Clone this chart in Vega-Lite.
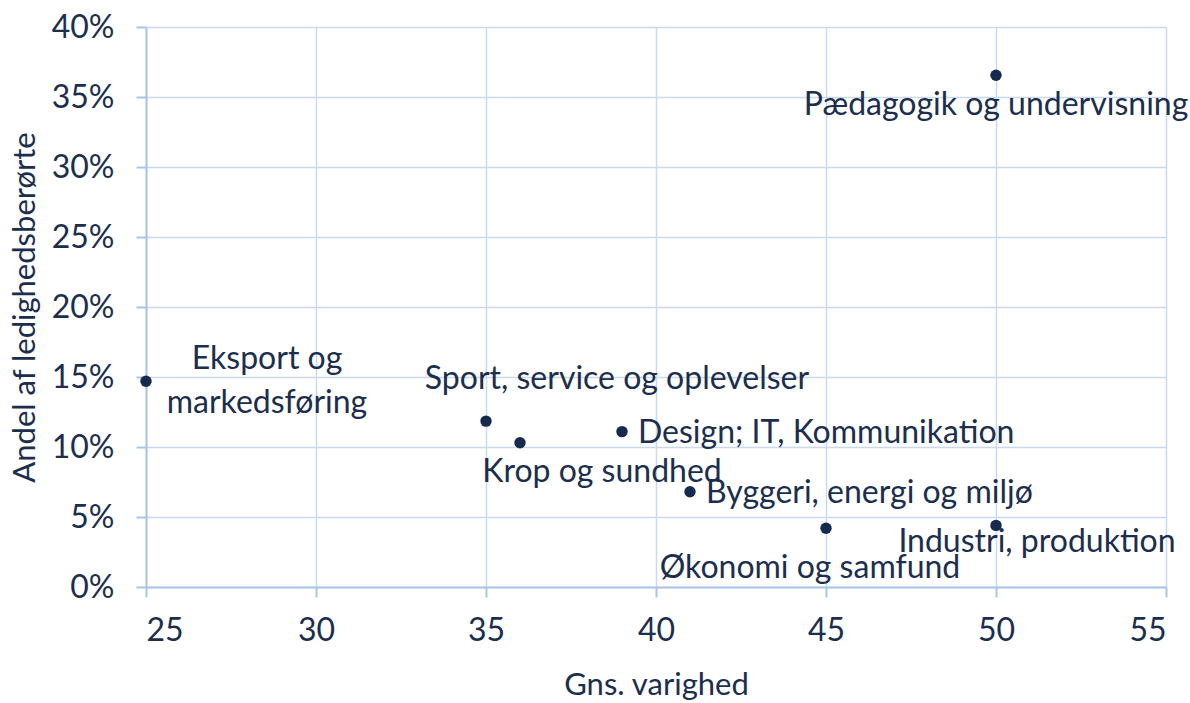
{
  "$schema": "https://vega.github.io/schema/vega-lite/v6.json",
  "width": 1020,
  "height": 560,
  "autosize": "none",
  "padding": {"left": 146, "top": 27, "right": 24, "bottom": 116},
  "background": "white",
  "config": {
    "font": "Lato",
    "view": {"stroke": null},
    "axis": {
      "labelFont": "Lato", "titleFont": "Lato",
      "labelFontSize": 32, "titleFontSize": 31,
      "labelColor": "#1B2E4E", "titleColor": "#1B2E4E",
      "labelFontWeight": "normal", "titleFontWeight": "normal",
      "gridColor": "#C9D9F0", "gridWidth": 1.5, "gridOpacity": 1,
      "domainColor": "#A9C4EB", "domainWidth": 2,
      "tickColor": "#A9C4EB", "tickWidth": 2, "tickSize": 10
    }
  },
  "data": {"values": [
    {"name": "Pædagogik og undervisning", "varighed": 50, "andel": 0.3655},
    {"name": "Eksport og markedsføring", "varighed": 25, "andel": 0.147},
    {"name": "Sport, service og oplevelser", "varighed": 35, "andel": 0.1185},
    {"name": "Krop og sundhed", "varighed": 36, "andel": 0.103},
    {"name": "Design; IT, Kommunikation", "varighed": 39, "andel": 0.111},
    {"name": "Byggeri, energi og miljø", "varighed": 41, "andel": 0.068},
    {"name": "Økonomi og samfund", "varighed": 45, "andel": 0.042},
    {"name": "Industri, produktion", "varighed": 50, "andel": 0.044}
  ]},
  "encoding": {
    "x": {"field": "varighed", "type": "quantitative",
      "scale": {"domain": [25, 55], "zero": false, "nice": false},
      "axis": {"values": [25, 30, 35, 40, 45, 50, 55], "title": "Gns. varighed", "labelPadding": 18, "titlePadding": 24}},
    "y": {"field": "andel", "type": "quantitative",
      "scale": {"domain": [0, 0.4], "nice": false},
      "axis": {"values": [0, 0.05, 0.1, 0.15, 0.2, 0.25, 0.3, 0.35, 0.4], "format": ".0%", "title": "Andel af ledighedsberørte", "labelPadding": 22, "titlePadding": 10}}
  },
  "layer": [
    {"mark": {"type": "point", "filled": true, "size": 130, "color": "#152A4C", "opacity": 1}},
    {"transform": [{"filter": "datum.name === 'Pædagogik og undervisning'"}],
     "mark": {"type": "text", "fontSize": 32, "color": "#1B2E4E", "align": "center", "baseline": "middle", "dy": 30},
     "encoding": {"text": {"field": "name"}}},
    {"transform": [{"filter": "datum.name === 'Eksport og markedsføring'"}],
     "mark": {"type": "text", "fontSize": 32, "color": "#1B2E4E", "align": "center", "baseline": "middle", "dx": 121, "dy": -22, "lineHeight": 44},
     "encoding": {"text": {"value": ["Eksport og", "markedsføring"]}}},
    {"transform": [{"filter": "datum.name === 'Sport, service og oplevelser'"}],
     "mark": {"type": "text", "fontSize": 32, "color": "#1B2E4E", "align": "center", "baseline": "middle", "dx": 131, "dy": -42},
     "encoding": {"text": {"field": "name"}}},
    {"transform": [{"filter": "datum.name === 'Krop og sundhed'"}],
     "mark": {"type": "text", "fontSize": 32, "color": "#1B2E4E", "align": "center", "baseline": "middle", "dx": 82, "dy": 29},
     "encoding": {"text": {"field": "name"}}},
    {"transform": [{"filter": "datum.name === 'Design; IT, Kommunikation' || datum.name === 'Byggeri, energi og miljø'"}],
     "mark": {"type": "text", "fontSize": 32, "color": "#1B2E4E", "align": "left", "baseline": "middle", "dx": 16, "dy": 1},
     "encoding": {"text": {"field": "name"}}},
    {"transform": [{"filter": "datum.name === 'Økonomi og samfund'"}],
     "mark": {"type": "text", "fontSize": 32, "color": "#1B2E4E", "align": "center", "baseline": "middle", "dx": -16, "dy": 40},
     "encoding": {"text": {"field": "name"}}},
    {"transform": [{"filter": "datum.name === 'Industri, produktion'"}],
     "mark": {"type": "text", "fontSize": 32, "color": "#1B2E4E", "align": "center", "baseline": "middle", "dx": 41, "dy": 17},
     "encoding": {"text": {"field": "name"}}}
  ]
}
